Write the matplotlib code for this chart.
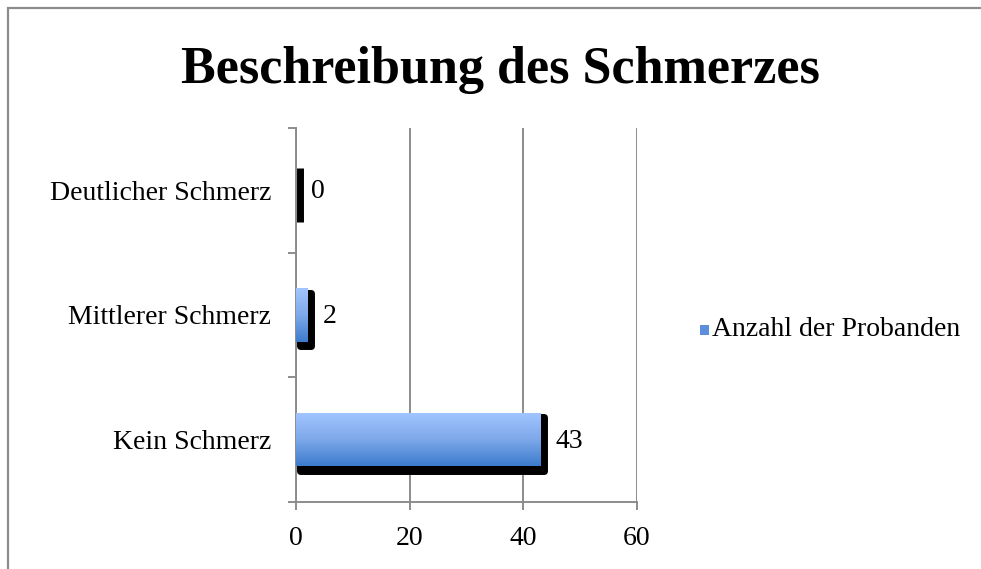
import numpy as np
import matplotlib
matplotlib.use("Agg")
import matplotlib.pyplot as plt
from matplotlib.patches import Rectangle
from matplotlib.colors import LinearSegmentedColormap
import matplotlib.transforms as mtransforms

plt.rcParams['font.family'] = ['Liberation Serif', 'DejaVu Serif']

# data
categories = ["Kein Schmerz", "Mittlerer Schmerz", "Deutlicher Schmerz"]
values = [43, 2, 0]
series_name = "Anzahl der Probanden"
title = "Beschreibung des Schmerzes"
xticks = [0, 20, 40, 60]

fig = plt.figure(figsize=(9.81, 5.69), dpi=100)
ax = fig.add_axes([296 / 981, 1 - 502 / 569, 341 / 981, 374 / 569])

grey = "#8c8c8c"
bar_h = 0.43
ypos = np.arange(len(categories))

# shadow bars (black, offset right/down, rounded corners)
shadow_tr = mtransforms.offset_copy(ax.transData, fig=fig, x=3.5, y=-4.5, units='dots')
ax.barh(ypos, values, height=bar_h, color='black', edgecolor='black',
        linewidth=5.0, joinstyle='round', transform=shadow_tr, zorder=3)

# gradient bars
cmap = LinearSegmentedColormap.from_list("bluegrad", ["#3d7ccd", "#7ea9ea", "#a2c5ff"])
grad = np.linspace(0, 1, 100).reshape(-1, 1)
bars = ax.barh(ypos, values, height=bar_h, color='none', zorder=4)
for b in bars:
    x0, y0, w, h = b.get_x(), b.get_y(), b.get_width(), b.get_height()
    if w <= 0:
        continue
    im = ax.imshow(grad, cmap=cmap, origin='lower', aspect='auto',
                   extent=[x0, x0 + w, y0, y0 + h], zorder=4)
    im.set_clip_path(b)

for y, v in zip(ypos, values):
    ax.annotate(str(v), xy=(v, y), xytext=(11, -1), textcoords='offset points',
                va='center', ha='left', fontsize=20, zorder=5)

ax.set_xlim(0, 60)
ax.set_ylim(-0.5, len(categories) - 0.5)
ax.set_xticks(xticks)
ax.set_xticklabels([str(t) for t in xticks], fontsize=20)
ax.set_yticks(ypos)
ax.set_yticklabels(categories, fontsize=20)
ax.set_yticks(np.arange(-0.5, len(categories)), minor=True)
ax.tick_params(axis='y', which='major', length=0, pad=18)
ax.tick_params(axis='y', which='minor', length=5.5, width=1.4, color=grey, direction='out')
ax.tick_params(axis='x', length=5.5, width=1.4, color=grey, pad=12)
ax.grid(axis='x', color=grey, linewidth=1.4, zorder=0)
ax.set_axisbelow(True)
for s in ['top', 'right']:
    ax.spines[s].set_visible(False)
for s in ['left', 'bottom']:
    ax.spines[s].set_color(grey)
    ax.spines[s].set_linewidth(1.4)

fig.text(500 / 981, 1 - 70 / 569, title, ha='center', va='center',
         fontsize=37.5, fontweight='bold')

# legend
lx, ly = 700 / 981, 1 - 335 / 569
fig.patches.append(Rectangle((lx, ly), 9 / 981, 10 / 569, transform=fig.transFigure,
                             facecolor="#5b8fdc", edgecolor='none'))
fig.text(712 / 981, 1 - 330 / 569, series_name, ha='left', va='center', fontsize=20)

# outer frame
fig.patches.append(Rectangle((8 / 981, -0.1), 1.2, 1 - 8 / 569 + 0.1,
                             transform=fig.transFigure, fill=False,
                             edgecolor=grey, linewidth=1.6))

fig.savefig("out.png", dpi=100)
